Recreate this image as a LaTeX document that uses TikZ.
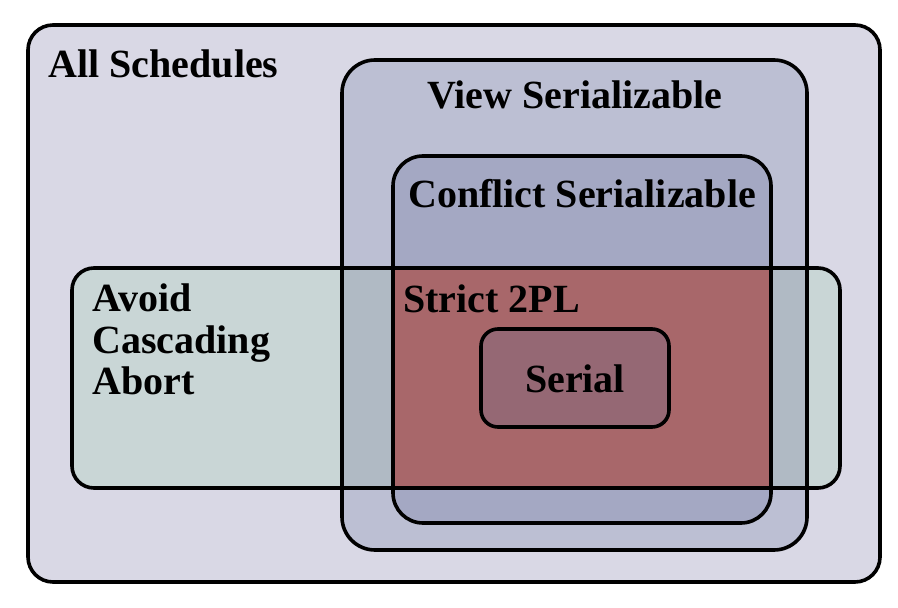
\documentclass[tikz,border=0pt]{standalone}
\usepackage{fontspec}
\setmainfont{Liberation Serif}

\definecolor{allfill}{HTML}{D9D8E5}
\definecolor{viewfill}{HTML}{BCBFD3}
\definecolor{conflictfill}{HTML}{A4A8C3}
\definecolor{acafill}{HTML}{C9D6D6}
\definecolor{acaview}{HTML}{B0BAC4}
\definecolor{strictfill}{HTML}{A8676A}
\definecolor{serialfill}{HTML}{956874}

\begin{document}
\begin{tikzpicture}[x=0.5pt, y=-0.5pt,
    setline/.style={draw=black, line width=1.8pt},
    setlabel/.style={font=\bfseries\fontsize{20}{20.75}\selectfont, inner sep=0pt}]
      \useasboundingbox (0,0) rectangle (898,608);

      % areas
      \fill[allfill, rounded corners=12.5pt]      (28,25)   rectangle (880,582);
      \fill[viewfill, rounded corners=16.5pt]     (342,60)  rectangle (807,550);
      \fill[conflictfill, rounded corners=15pt]   (393,156) rectangle (771,523);
      \fill[acafill, rounded corners=11pt]        (72,268)  rectangle (840,488);
      \begin{scope}
        \clip[rounded corners=16.5pt] (342,60) rectangle (807,550);
        \fill[acaview, rounded corners=11pt]      (72,268)  rectangle (840,488);
      \end{scope}
      \begin{scope}
        \clip[rounded corners=15pt] (393,156) rectangle (771,523);
        \fill[strictfill, rounded corners=11pt]   (72,268)  rectangle (840,488);
      \end{scope}
      \fill[serialfill, rounded corners=8.5pt]    (481,329) rectangle (669,427);

      % borders
      \draw[setline, rounded corners=12.5pt]      (28,25)   rectangle (880,582);
      \draw[setline, rounded corners=16.5pt]      (342,60)  rectangle (807,550);
      \draw[setline, rounded corners=15pt]        (393,156) rectangle (771,523);
      \draw[setline, rounded corners=11pt]        (72,268)  rectangle (840,488);
      \draw[setline, rounded corners=8.5pt]       (481,329) rectangle (669,427);

      \node[setlabel, anchor=base west] (all)      at (48,78)   {All Schedules};
      \node[setlabel, anchor=base]      (view)     at (575,109) {View Serializable};
      \node[setlabel, anchor=base]      (conflict) at (582,208) {Conflict Serializable};
      \node[setlabel, anchor=base west, align=left] (aca) at (92,395) {Avoid\\Cascading\\Abort};
      \node[setlabel, anchor=base west] (strict)   at (403,313) {Strict 2PL};
      \node[setlabel, anchor=base]      (serial)   at (575,393) {Serial};
    \end{tikzpicture}
\end{document}
